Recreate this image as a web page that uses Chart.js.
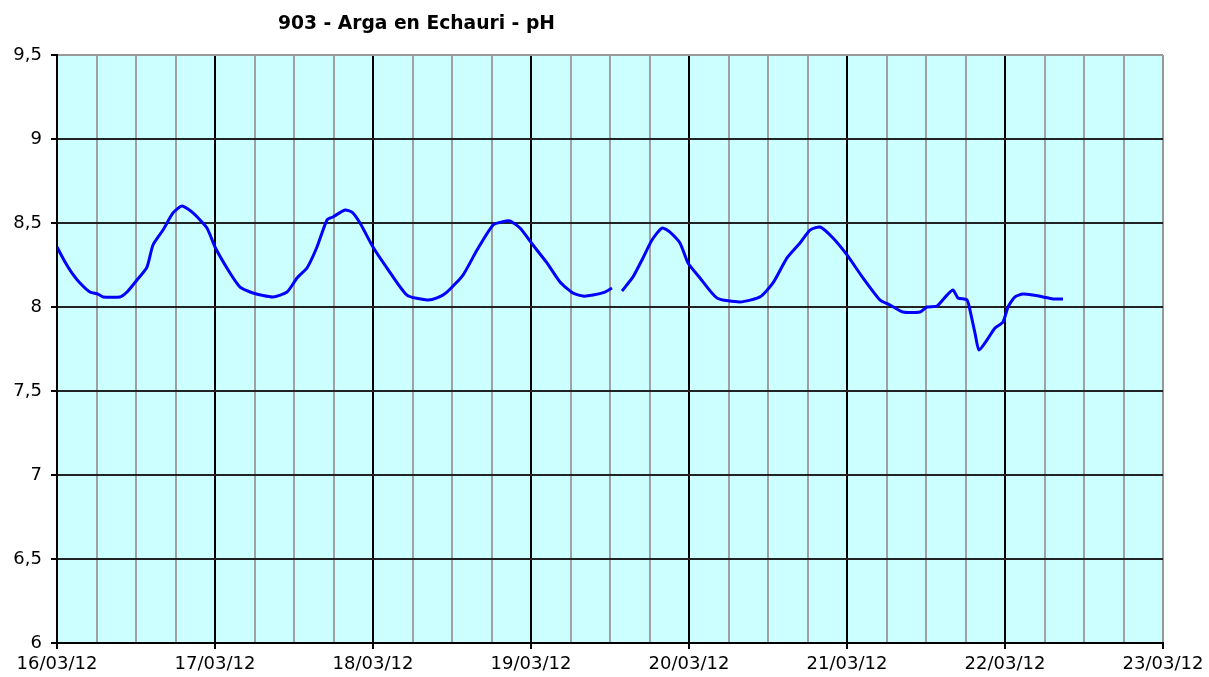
<!DOCTYPE html>
<html>
<head>
<meta charset="utf-8">
<script src="https://cdn.jsdelivr.net/npm/chart.js@4/dist/chart.umd.min.js"></script>
<style>
  html, body { margin: 0; padding: 0; background: #fff; }
  #wrap { position: relative; width: 1209px; height: 677px; }
  #title { position: absolute; left: 278px; top: 12px; font-family: "DejaVu Sans", sans-serif; font-weight: bold; font-size: 18.7px; color: #000; white-space: nowrap; }
  canvas { position: absolute; left: 0; top: 0; }
</style>
</head>
<body>
<div id="wrap">
  <canvas id="c" width="1209" height="677"></canvas>
  <div id="title">903 - Arga en Echauri - pH</div>
</div>
<script>
// Hours since 16/03/12 00:00 (null marks a gap in the record)
const hours = [0, 1.22, 2.28, 3.49, 5.01, 6.23, 6.99, 9.57, 10.63, 12.15, 13.67, 14.58, 16.10, 17.62, 18.99, 20.66, 22.78, 24.00,
  26.28, 27.80, 29.77, 32.81, 34.94, 36.46, 37.97, 39.49, 41.01, 41.92, 43.75, 44.81, 46.03, 48.00,
  50.13, 53.16, 56.20, 57.72, 59.24, 61.67, 63.80, 66.23, 67.59, 68.81, 70.33, 72.30,
  74.43, 76.41, 78.38, 79.90, 81.42, 83.24, 84.30, 85.0,
  85.82, 87.49, 89.01, 90.38, 91.90, 93.11, 94.63, 95.85, 97.67, 100.25, 103.75, 106.78, 108.76, 110.89, 112.86, 114.38, 115.90, 117.87, 120.00,
  122.43, 125.01, 126.53, 128.51, 131.09, 132.15, 133.67, 135.19, 136.10, 136.86, 138.23, 138.68, 139.44, 140.05, 141.27, 142.48, 143.70, 144.46,
  145.52, 146.73, 148.25, 149.77, 151.29, 152.81];
const ph = [8.357, 8.268, 8.202, 8.143, 8.089, 8.077, 8.060, 8.060, 8.089, 8.161, 8.238, 8.369, 8.458, 8.560, 8.601, 8.560, 8.470, 8.357,
  8.202, 8.119, 8.083, 8.060, 8.089, 8.173, 8.232, 8.357, 8.518, 8.536, 8.577, 8.565, 8.500, 8.357,
  8.232, 8.071, 8.042, 8.054, 8.089, 8.190, 8.339, 8.488, 8.506, 8.512, 8.470, 8.369,
  8.262, 8.149, 8.083, 8.065, 8.071, 8.089, 8.113, null,
  8.095, 8.179, 8.292, 8.399, 8.470, 8.446, 8.381, 8.262, 8.173, 8.054, 8.030, 8.060, 8.143, 8.292, 8.381, 8.458, 8.476, 8.411, 8.310,
  8.173, 8.042, 8.012, 7.970, 7.970, 8.000, 8.006, 8.071, 8.101, 8.054, 8.042, 7.982, 7.845, 7.744, 7.804, 7.875, 7.911, 8.000,
  8.060, 8.077, 8.071, 8.060, 8.048, 8.048];
const dayLabels = ['16/03/12', '17/03/12', '18/03/12', '19/03/12', '20/03/12', '21/03/12', '22/03/12', '23/03/12'];
const yMin = 6, yMax = 9.5, yStep = 0.5;
const xMin = 0, xMax = 168, xStep = 6;

const points = hours.map((h, i) => ({ x: h, y: ph[i] }));

Chart.defaults.font.family = '"DejaVu Sans", sans-serif';
Chart.defaults.font.size = 18;
Chart.defaults.color = '#000';

const bgPlugin = {
  id: 'plotBg',
  beforeDraw(chart) {
    const a = chart.chartArea, ctx = chart.ctx;
    ctx.save();
    ctx.fillStyle = '#CCFFFF';
    ctx.fillRect(a.left, a.top, a.right - a.left, a.bottom - a.top);
    ctx.restore();
  }
};

new Chart(document.getElementById('c'), {
  type: 'line',
  data: {
    datasets: [{
      data: points,
      borderColor: '#0000FF',
      borderWidth: 3,
      pointRadius: 0,
      tension: 0.2,
      spanGaps: false,
      fill: false
    }]
  },
  options: {
    responsive: false,
    animation: false,
    layout: { padding: { top: 55, right: 46, left: 0, bottom: 0 } },
    plugins: { legend: { display: false }, tooltip: { enabled: false }, title: { display: false } },
    scales: {
      x: {
        type: 'linear',
        min: xMin, max: xMax,
        afterFit(s) { s.height = 34; },
        afterBuildTicks(s) {
          const t = [];
          for (let v = xMin; v <= xMax; v += xStep) t.push({ value: v });
          s.ticks = t;
        },
        ticks: {
          autoSkip: false, maxRotation: 0, minRotation: 0, padding: 5,
          callback: (v) => (v % 24 === 0 ? dayLabels[v / 24] : '')
        },
        grid: {
          color: (c) => (c.tick && c.tick.value === xMax ? '#999999' : (c.tick && c.tick.value % 24 === 0 ? '#000000' : '#a0a0a0')),
          lineWidth: 2,
          tickLength: 6,
          tickColor: (c) => (c.tick && c.tick.value % 24 === 0 ? '#000000' : 'rgba(0,0,0,0)')
        },
        border: { color: '#000000', width: 2 }
      },
      y: {
        min: yMin, max: yMax,
        afterFit(s) { s.width = 57; },
        afterBuildTicks(s) {
          const t = [];
          for (let v = yMin; v <= yMax + 1e-9; v += yStep) t.push({ value: Math.round(v * 10) / 10 });
          s.ticks = t;
        },
        ticks: {
          padding: 9,
          callback: (v) => String(v).replace('.', ',')
        },
        grid: {
          color: (c) => (c.tick && c.tick.value === yMax ? '#999999' : '#222222'),
          lineWidth: 2,
          tickLength: 6,
          tickColor: '#000000'
        },
        border: { color: '#000000', width: 2 }
      }
    }
  },
  plugins: [bgPlugin]
});
</script>
</body>
</html>
